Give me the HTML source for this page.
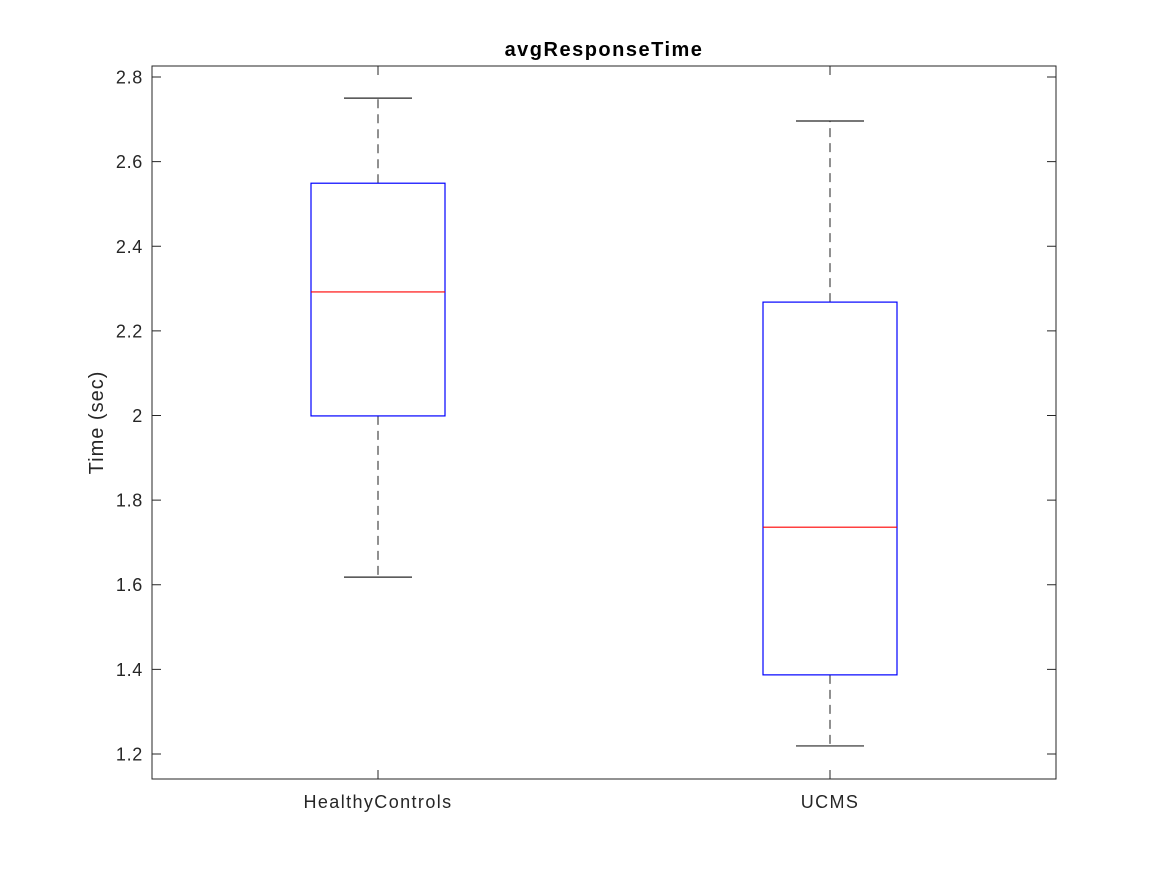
<!DOCTYPE html>
<html><head><meta charset="utf-8"><style>
html,body{margin:0;padding:0;background:#fff;}
svg text{font-family:"Liberation Sans",Arial,sans-serif;fill:#262626;}
</style></head><body>
<svg id="chart" width="1167" height="875" xmlns="http://www.w3.org/2000/svg">
<rect x="0" y="0" width="1167" height="875" fill="#fff"/>
<g id="plot"></g>
</svg>
<script>
const categories = ["HealthyControls", "UCMS"];
const whiskerLow = [1.618, 1.219];
const q1 = [1.999, 1.387];
const medians = [2.292, 1.736];
const q3 = [2.549, 2.268];
const whiskerHigh = [2.750, 2.696];
const yTicks = [1.2, 1.4, 1.6, 1.8, 2, 2.2, 2.4, 2.6, 2.8];
const yTickLabels = ["1.2", "1.4", "1.6", "1.8", "2", "2.2", "2.4", "2.6", "2.8"];

const NS = "http://www.w3.org/2000/svg";
const L = 152, R = 1056, T = 66, B = 779;
const yMin = 1.2 - 25 / 423.1, yMax = 2.8 + 11 / 423.1;
function yS(v) { return B - (v - yMin) / (yMax - yMin) * (B - T); }
function xS(i) { return L + (R - L) * (0.5 + i) / categories.length; }
const g = document.getElementById('plot');
function mk(tag, attrs) { const e = document.createElementNS(NS, tag); for (const k in attrs) e.setAttribute(k, attrs[k]); g.appendChild(e); return e; }

let ax = mk('rect', {x: L, y: T, width: R - L, height: B - T, fill: 'none', stroke: '#262626', 'stroke-width': 1});



yTicks.forEach((v, i) => {
  const y = yS(v);
  let t1 = mk('line', {x1: L, x2: L + 9, y1: y, y2: y, stroke: '#262626'});
  
  
  let t2 = mk('line', {x1: R, x2: R - 9, y1: y, y2: y, stroke: '#262626'});
  
  
  let lb = mk('text', {x: L - 9, y: y + 6.5, 'text-anchor': 'end', 'font-size': 18, 'letter-spacing': 0.7});
  lb.textContent = yTickLabels[i];
  
  
});

const halfW = 67, capW = 34;
categories.forEach((c, i) => {
  const x = xS(i);
  let tb = mk('line', {x1: x, x2: x, y1: B, y2: B - 9, stroke: '#262626'});
  
  
  let tt = mk('line', {x1: x, x2: x, y1: T, y2: T + 9, stroke: '#262626'});
  
  
  let lb = mk('text', {x: x, y: 808, 'text-anchor': 'middle', 'font-size': 18, 'letter-spacing': 1.4});
  lb.textContent = c;
  
  

  let w1 = mk('line', {x1: x, x2: x, y1: yS(q3[i]), y2: yS(whiskerHigh[i]), stroke: '#555', 'stroke-dasharray': '9,6', 'stroke-width': 1.3});
  
  
  let w2 = mk('line', {x1: x, x2: x, y1: yS(q1[i]), y2: yS(whiskerLow[i]), stroke: '#555', 'stroke-dasharray': '9,6', 'stroke-width': 1.3});
  
  
  let c1 = mk('line', {x1: x - capW, x2: x + capW, y1: yS(whiskerHigh[i]), y2: yS(whiskerHigh[i]), stroke: '#262626', 'stroke-width': 1.2});
  
  
  let c2 = mk('line', {x1: x - capW, x2: x + capW, y1: yS(whiskerLow[i]), y2: yS(whiskerLow[i]), stroke: '#262626', 'stroke-width': 1.2});
  
  
  let bx = mk('rect', {x: x - halfW, y: yS(q3[i]), width: 2 * halfW, height: yS(q1[i]) - yS(q3[i]), fill: 'none', stroke: '#0000ff', 'stroke-width': 1.2});
  
  
  let md = mk('line', {x1: x - halfW, x2: x + halfW, y1: yS(medians[i]), y2: yS(medians[i]), stroke: '#ff0000', 'stroke-width': 1.2});
  
  
});

let title = mk('text', {x: (L + R) / 2, y: 56, 'text-anchor': 'middle', 'font-size': 20, 'font-weight': 'bold', 'letter-spacing': 1.5, style: 'fill:#000'});
title.textContent = 'avgResponseTime';


let yt = mk('text', {x: 0, y: 0, 'text-anchor': 'middle', 'font-size': 20, 'letter-spacing': 1, transform: 'translate(103,' + ((T + B) / 2) + ') rotate(-90)'});
yt.textContent = 'Time (sec)';


</script>
</body></html>
